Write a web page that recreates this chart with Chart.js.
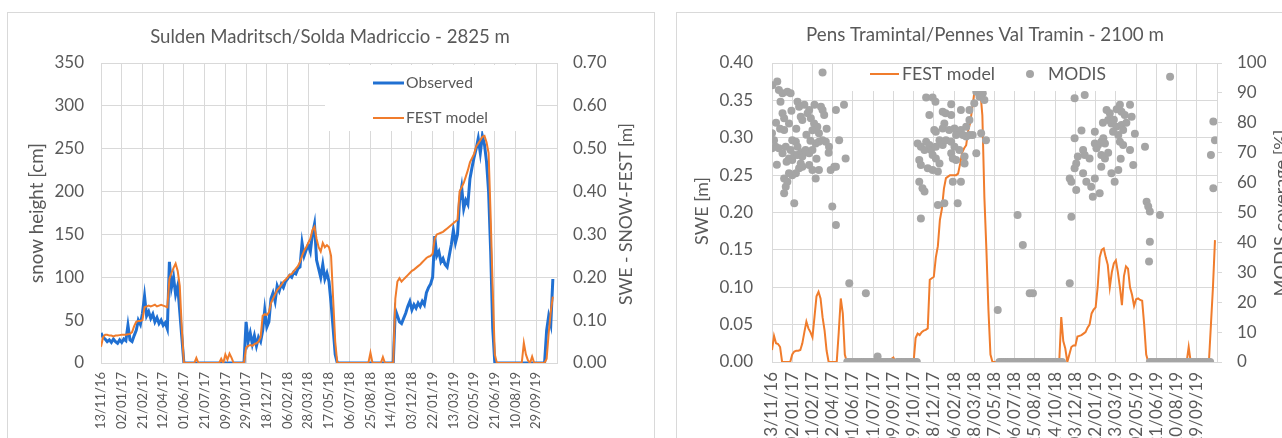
<!DOCTYPE html>
<html><head><meta charset="utf-8">
<script src="https://cdn.jsdelivr.net/npm/chart.js@4.4.0/dist/chart.umd.min.js"></script>
<style>
html,body{margin:0;padding:0;background:#fff;overflow:hidden;width:1282px;height:438px}
#c1{position:absolute;left:0;top:0}
#c2{position:absolute;left:665px;top:0}
.box{position:absolute;border:1px solid #d9d9d9;}
</style></head><body>
<div class="box" style="left:7px;top:12px;width:646px;height:440px"></div>
<div class="box" style="left:676px;top:12px;width:640px;height:440px"></div>
<canvas id="c1" width="665" height="438"></canvas>
<canvas id="c2" width="617" height="438"></canvas>
<script>
// ---------- DATA ----------
// x tick labels (every 50 days from 13/11/16)
const tickLabels = ['13/11/16','02/01/17','21/02/17','12/04/17','01/06/17','21/07/17','09/09/17','29/10/17',
  '18/12/17','06/02/18','28/03/18','17/05/18','06/07/18','25/08/18','14/10/18','03/12/18','22/01/19',
  '13/03/19','02/05/19','21/06/19','10/08/19','29/09/19'];
const STEP = 5; // days between successive samples below (sample i is day i*STEP after 13/11/16)

// Sulden: observed snow height [cm]
const obsSnowCm = [
  35,30,28,25,27,24,28,25,23,27,24,28,26,44,27,25,32,38,50,45,58,78,55,60,52,57,48,53,46,50,44,47,40,118,88,100,80,90,60,30,0,
  0,0,0,0,0,0,0,0,0,0,0,0,0,0,0,0,0,0,0,0,0,0,0,0,0,0,0,0,0,
  48,25,35,22,32,20,30,25,38,62,42,48,75,82,72,90,84,92,88,95,98,102,100,106,104,110,112,140,125,132,138,130,150,162,120,110,100,115,98,105,95,70,40,10,0,
  0,0,0,0,0,0,0,0,0,0,0,0,0,0,0,0,0,0,0,0,0,0,0,0,0,0,0,
  62,55,48,46,52,58,66,72,62,68,64,70,66,72,68,82,88,92,100,148,125,130,118,122,115,112,125,138,155,140,150,190,205,180,190,185,215,228,240,250,262,245,265,255,235,200,130,40,0,
  0,0,0,0,0,0,0,0,0,0,0,0,0,0,0,0,0,0,0,0,0,0,0,0,
  38,55,45,98
];
// Sulden: FEST model SWE [m]
const sweFestSulden = [
  0.038,0.06,0.066,0.066,0.064,0.064,0.062,0.064,0.064,0.065,0.066,0.066,0.066,0.067,0.068,0.072,0.086,0.096,0.098,0.098,0.1,0.13,0.132,0.134,0.132,0.134,0.136,0.132,0.134,0.136,0.134,0.132,0.13,0.196,0.21,0.222,0.232,0.215,0.18,0.08,0,
  0,0,0,0,0,0.012,0,0,0,0,0,0,0,0,0,0,0,0.01,0,0.02,0.008,0.022,0.012,0,0,0,0,0,0,
  0.036,0.04,0.042,0.04,0.044,0.046,0.05,0.06,0.11,0.114,0.112,0.118,0.14,0.15,0.16,0.17,0.176,0.182,0.19,0.194,0.2,0.206,0.208,0.214,0.22,0.226,0.236,0.25,0.262,0.27,0.28,0.29,0.31,0.318,0.29,0.27,0.26,0.28,0.27,0.275,0.27,0.25,0.15,0.05,0,
  0,0,0,0,0,0,0,0,0,0,0,0,0,0,0,0.024,0,0,0,0,0,0.014,0,0,0,0,0,
  0.15,0.19,0.198,0.19,0.195,0.2,0.205,0.21,0.215,0.218,0.222,0.226,0.23,0.235,0.24,0.245,0.248,0.25,0.255,0.29,0.3,0.302,0.304,0.306,0.31,0.314,0.318,0.322,0.326,0.33,0.334,0.4,0.41,0.42,0.435,0.45,0.468,0.478,0.488,0.505,0.512,0.52,0.528,0.53,0.515,0.49,0.34,0.17,0.02,
  0,0,0,0,0,0,0,0,0,0,0,0,0,0.047,0.02,0.006,0,0.015,0,0,0,0,0,0,
  0.01,0.07,0.12,0.155
];
// Pens: FEST model SWE [m]
const sweFestPens = [
  0.016,0.035,0.025,0.024,0.02,0,0,0,0,0,0.01,0.014,0.015,0.015,0.016,0.025,0.04,0.054,0.045,0.04,0.033,0.06,0.088,0.094,0.085,0.06,0.042,0.015,0,0,0,0,0,0.04,0.085,0.065,0.01,
  0,0,0,0,0,0,0,0,0,0,0,0,0,0,0,0,0,0,0,0,0,0,0.004,0.006,0,0,0,0,0,0,0,0,0,0,
  0.032,0.038,0.036,0.04,0.042,0.043,0.045,0.11,0.112,0.114,0.14,0.155,0.19,0.205,0.232,0.246,0.248,0.25,0.25,0.25,0.25,0.252,0.265,0.28,0.286,0.29,0.31,0.32,0.34,0.36,0.36,0.36,0.362,0.33,0.22,0.15,0.07,0.01,
  0,0,0,0,0,0,0,0,0,0,0,0,0,0,0,0,0,0,0,0,0,0,0,0,0,0,0,0,0,0,0,0,0,0,
  0.06,0.028,0.018,0,0.01,0.02,0.022,0.022,0.034,0.035,0.036,0.038,0.04,0.046,0.05,0.065,0.07,0.073,0.1,0.14,0.15,0.152,0.14,0.13,0.1,0.12,0.132,0.136,0.12,0.1,0.076,0.115,0.128,0.125,0.1,0.09,0.075,0.084,0.085,0.083,0.082,0.05,0.01,
  0,0,0,0,0,0,0,0,0,0,0,0,0,0,0,0,0,0,0,0,0.02,0,0,0,0,0,0,0,0,0,0,
  0.05,0.1,0.163
];
// Pens: MODIS snow coverage [%] as [day after 13/11/16, coverage]
const modisPoints = [
  [1,92.6],[13,93.8],[17,91],[26,89.9],[38,90.4],[46,89.9],[21,87],[63,87],[67,85.4],[92,84.3],[121,85.4],[125,84.3],[158,84.3],[178,86],[125,96.8],
  [0,76.5],[26,83.2],[30,81.5],[42,79.8],[71,82],[75,80.9],[88,83.2],[96,81.5],[104,79.8],[112,78.7],[116,76.5],[129,82.6],[100,77.5],
  [5,74.2],[9,72],[17,71.5],[34,72],[50,74.2],[59,73.7],[63,72],[46,70.9],[30,77.6],[0,71.5],[26,69.8],[42,68.1],[50,67.6],[55,69.2],
  [63,69.2],[71,69.8],[75,68.7],[79,70.3],[83,70.9],[92,69.8],[100,70.9],[108,73.1],[116,73.7],[125,74.2],[133,73.7],[141,72],[166,74.2],
  [71,66.4],[67,64.8],[59,63.1],[50,62.5],[42,63.1],[30,61.4],[38,60.3],[34,58.6],[30,56.4],[55,53.1],[75,65.3],[92,65.9],[100,64.2],
  [108,61.4],[116,64.2],[145,64.2],[154,65.3],[158,65.3],[182,68.1],[149,52],[158,45.8],[191,26.3],[232,23],
  [10,80],[20,78],[85,76],[95,74],[110,68],[135,78],[140,70],[60,78],[80,86],[105,86],[12,66],[48,84],[36,67],
  [261,1.8],
  [381,88.5],[397,88.5],[404,87],[443,86.2],[422,83.7],[429,83.2],[467,84.3],[488,84.3],[389,82.6],[443,82.6],[426,79.8],[422,78.1],
  [438,77.6],[451,78.1],[459,77],[467,77.6],[405,77],[401,77.6],[455,75.9],[472,75.9],[480,75.4],[488,75.9],[496,75.9],[517,76.5],
  [529,74.2],[360,73.1],[368,72],[377,70.9],[381,73.7],[389,72.6],[393,70.9],[397,69.2],[405,72],[414,74.2],[422,72.6],[430,74.2],
  [443,73.7],[451,72],[463,70.9],[443,69.8],[447,68.1],[455,67.6],[476,66.4],[405,68.1],[414,66.4],[364,67.6],[368,65.9],[385,64.8],
  [397,64.2],[410,63.7],[476,68.7],[505,69.8],[364,60.3],[372,58.1],[377,57],[410,52.5],[426,53.1],[459,53.1],[447,60.3],[467,60.3],
  [368,48],[505,90.4],[513,88.7],[521,89.9],[525,87.6],[500,86.5],[488,80.9],[480,78.7],
  [558,17.4],[607,49.2],[620,39.1],[637,23],[645,23],[740,48.6],[736,26.3],
  [748,88.2],[773,89.3],[860,86],[885,86],[827,84.3],[835,83.2],[864,83.7],[872,82.6],[889,82],[831,80.9],[839,79.8],[851,78.7],
  [864,79.3],[868,77.6],[798,77],[765,77.4],[843,77],[856,75.9],[819,74.8],[748,74.8],[798,73.1],[806,72.6],[814,73.7],[823,73.1],
  [860,73.7],[868,72.6],[802,71.5],[769,70.9],[756,68.7],[773,69.2],[785,68.1],[814,69.2],[823,68.1],[897,76.3],[922,72],[885,70.9],
  [752,66.4],[748,64.8],[736,61.4],[740,60.3],[769,63.1],[777,60.3],[789,58.6],[798,61.4],[814,65.3],[839,63.1],[856,64.2],[847,60.3],
  [893,65.9],[752,57.5],[793,55.3],[810,56.4],[818,80],[845,81],[852,84.5],[876,80],[831,70],[862,68],
  [926,53.6],[930,52],[934,50.3],[959,49.2],[934,40.2],[932,33.6],[984,95.4],[1091,80.4],[1095,74.2],[1085,69.2],[1091,58.1]
];
// Pens: days with MODIS coverage 0 %
const modisZeroDays = [
  186,191,196,201,206,211,216,221,226,231,236,241,246,251,256,261,266,271,276,281,286,291,295,
  309,314,319,324,329,334,339,344,349,354,358,
  562,567,572,577,582,587,592,597,602,607,612,617,622,627,632,637,642,647,652,657,662,667,672,677,682,687,692,697,702,707,712,717,
  934,939,944,949,954,959,964,969,974,979,984,989,994,999,1004,1009,1014,1019,1024,1029,1034,1039,1044,1049,1054,1059,1064,1069,1074,1079,1083
];

// ---------- STYLE ----------
const TEXT = '#595959', GRID = '#d9d9d9', BLUE = '#2070d2', ORANGE = '#f07c2c', GRAY = '#a5a5a5';
const FONT = 'Lato, "Open Sans", sans-serif';

const series = vals => vals.map((v, i) => ({x: i * STEP, y: v}));

const decor = {
  id: 'decor',
  afterDraw(chart, args, o) {
    const ctx = chart.ctx;
    const fit = (text, target) => { ctx.font = `20px ${FONT}`; return 20 * target / ctx.measureText(text).width; };
    ctx.save();
    ctx.textBaseline = 'middle';
    ctx.fillStyle = TEXT;
    const t = o.title;
    ctx.font = `${fit(t.text, t.w)}px ${FONT}`; ctx.textAlign = 'center';
    ctx.fillText(t.text, t.x, t.y);
    for (const a of o.axes) {
      ctx.save(); ctx.translate(a.x, a.y); ctx.rotate(-Math.PI / 2);
      ctx.font = `${fit(a.text, a.w)}px ${FONT}`; ctx.textAlign = 'center'; ctx.fillStyle = TEXT;
      ctx.fillText(a.text, 0, 0); ctx.restore();
    }
    const L = o.legend;
    ctx.fillStyle = '#fff'; ctx.fillRect(L.box[0], L.box[1], L.box[2], L.box[3]);
    for (const it of L.items) {
      const ds = chart.data.datasets[it.ds];
      if (it.kind === 'line') {
        ctx.strokeStyle = ds.borderColor; ctx.lineWidth = ds.borderWidth;
        ctx.beginPath(); ctx.moveTo(it.x0, it.y); ctx.lineTo(it.x1, it.y); ctx.stroke();
      } else {
        ctx.fillStyle = ds.backgroundColor; ctx.beginPath(); ctx.arc(it.x0, it.y, 4, 0, Math.PI * 2); ctx.fill();
      }
      ctx.fillStyle = TEXT; ctx.textAlign = 'left'; ctx.font = `${fit(ds.label, it.w)}px ${FONT}`;
      ctx.fillText(ds.label, it.tx, it.y);
    }
    ctx.restore();
  }
};

function xScale(size, pad, h) {
  return {
    type: 'linear', min: 0, max: 1100, position: 'bottom',
    afterFit(s) { s.height = h; },
    ticks: {stepSize: 50, autoSkip: false, minRotation: 90, maxRotation: 90, padding: pad, color: TEXT,
      font: {family: FONT, size: size},
      callback: v => { const i = Math.round(v / 50); return i < tickLabels.length ? tickLabels[i] : ''; }},
    grid: {color: GRID, drawTicks: false},
    border: {color: GRID}
  };
}

const common = {
  responsive: false, animation: false, devicePixelRatio: 1,
  elements: {point: {radius: 0}, line: {tension: 0}},
};

// ---------- LEFT CHART ----------
new Chart(document.getElementById('c1'), {
  type: 'line',
  data: {datasets: [
    {label: 'Observed', data: series(obsSnowCm), yAxisID: 'y', borderColor: BLUE, backgroundColor: BLUE, borderWidth: 3, order: 1, pointRadius: 0},
    {label: 'FEST model', data: series(sweFestSulden), yAxisID: 'y2', borderColor: ORANGE, backgroundColor: ORANGE, borderWidth: 2, order: 0, pointRadius: 0}
  ]},
  options: Object.assign({}, common, {
    layout: {padding: {top: 63, left: 0, right: 0, bottom: 0}},
    scales: {
      x: xScale(13, 9, 75),
      y: {position: 'left', min: 0, max: 350, afterFit(s) { s.width = 101; },
        ticks: {stepSize: 50, padding: 17, color: TEXT, font: {family: FONT, size: 17}},
        grid: {color: GRID, drawTicks: false}, border: {display: false}},
      y2: {position: 'right', min: 0, max: 0.7, afterFit(s) { s.width = 108; },
        ticks: {stepSize: 0.1, padding: 16, color: TEXT, font: {family: FONT, size: 17}, callback: v => v.toFixed(2)},
        grid: {drawOnChartArea: false, drawTicks: false}, border: {display: false}}
    },
    plugins: {
      legend: {display: false}, tooltip: {enabled: false},
      decor: {
        title: {text: 'Sulden Madritsch/Solda Madriccio - 2825 m', x: 330, y: 37, w: 360},
        axes: [{text: 'snow height [cm]', x: 37, y: 213, w: 140}, {text: 'SWE - SNOW-FEST [m]', x: 626, y: 214, w: 182}],
        legend: {box: [325, 65, 211, 66], items: [
          {ds: 0, kind: 'line', x0: 373, x1: 404, y: 83, tx: 406, w: 67},
          {ds: 1, kind: 'line', x0: 373, x1: 404, y: 118, tx: 406, w: 82}
        ]}
      }
    }
  }),
  plugins: [decor]
});

// ---------- RIGHT CHART ----------
new Chart(document.getElementById('c2'), {
  type: 'line',
  data: {datasets: [
    {label: 'FEST model', data: series(sweFestPens), yAxisID: 'y', borderColor: ORANGE, backgroundColor: ORANGE, borderWidth: 2, order: 1, pointRadius: 0},
    {label: 'MODIS', data: modisPoints.map(p => ({x: p[0], y: p[1]})).concat(modisZeroDays.map(d => ({x: d, y: 0}))),
      yAxisID: 'y2', showLine: false, pointRadius: 4, pointBorderWidth: 0, backgroundColor: GRAY, borderColor: GRAY, order: 0}
  ]},
  options: Object.assign({}, common, {
    layout: {padding: {top: 63, left: 0, right: 0, bottom: 0}},
    scales: {
      x: xScale(17, 10, 76),
      y: {position: 'left', min: 0, max: 0.4, afterFit(s) { s.width = 107; },
        ticks: {stepSize: 0.05, padding: 19, color: TEXT, font: {family: FONT, size: 17}, callback: v => v.toFixed(2)},
        grid: {color: GRID, drawTicks: false}, border: {display: false}},
      y2: {position: 'right', min: 0, max: 100, afterFit(s) { s.width = 65; },
        ticks: {stepSize: 10, padding: 15, color: TEXT, font: {family: FONT, size: 17}},
        grid: {drawOnChartArea: false, drawTicks: true, tickLength: 5, color: GRID}, border: {display: false}}
    },
    plugins: {
      legend: {display: false}, tooltip: {enabled: false},
      decor: {
        title: {text: 'Pens Tramintal/Pennes Val Tramin - 2100 m', x: 320, y: 35, w: 358},
        axes: [{text: 'SWE [m]', x: 37, y: 211, w: 68}, {text: 'MODIS coverage [%]', x: 616, y: 213, w: 167}],
        legend: {box: [185, 64, 271, 27], items: [
          {ds: 0, kind: 'line', x0: 205, x1: 234, y: 74, tx: 237, w: 93},
          {ds: 1, kind: 'dot', x0: 365, y: 74, tx: 383, w: 58}
        ]}
      }
    }
  }),
  plugins: [decor]
});
</script>
</body></html>
